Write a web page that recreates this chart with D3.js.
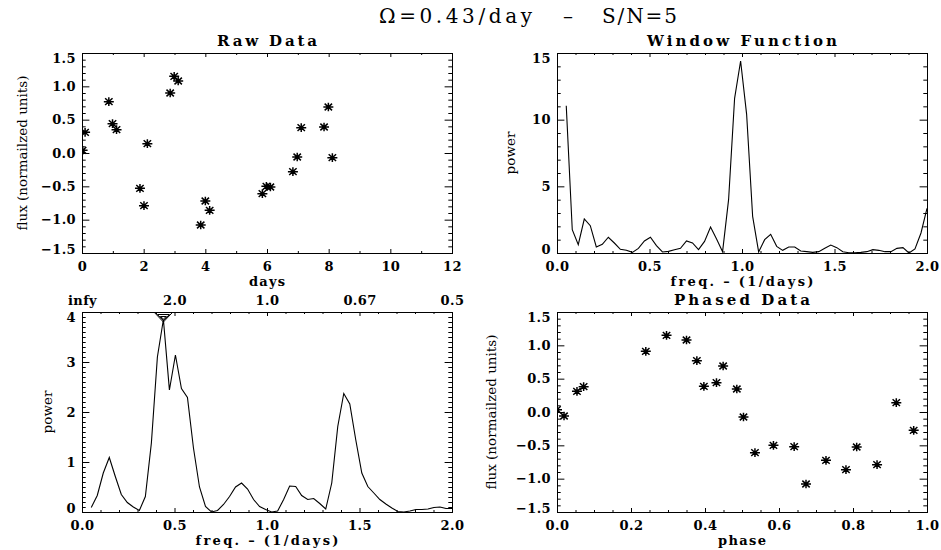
<!DOCTYPE html>
<html>
<head>
<meta charset="utf-8">
<script src="https://cdn.jsdelivr.net/npm/d3@7"></script>
<style>
  body { margin: 0; background: #fff; }
  svg text { font-family: "DejaVu Serif", serif; fill: #000; }
  .tick text { font-size: 13px; font-weight: bold; letter-spacing: 0.4px; }
  .ttl { font-size: 15px; font-weight: bold; }
  .xl { font-size: 13px; font-weight: bold; }
  .yl { font-size: 13.5px; }
</style>
</head>
<body>
<svg id="chart" width="941" height="550"></svg>
<script>
// ---- data ----
var rawDays = [0.02, 0.10, 0.87, 0.99, 1.12, 1.88, 2.01, 2.12, 2.86, 2.99, 3.12, 3.85, 4.00, 4.14,
               5.85, 5.98, 6.11, 6.84, 6.98, 7.11, 7.85, 7.99, 8.12]
var rawFlux = [0.04, 0.31, 0.77, 0.44, 0.35, -0.53, -0.79, 0.14, 0.90, 1.15, 1.08, -1.08, -0.72, -0.86,
               -0.61, -0.50, -0.51, -0.28, -0.06, 0.38, 0.39, 0.69, -0.07]

var phase = [0.0, 0.019, 0.054, 0.072, 0.24, 0.296, 0.35, 0.378, 0.397, 0.431, 0.449, 0.486, 0.504,
             0.535, 0.585, 0.641, 0.673, 0.727, 0.781, 0.81, 0.865, 0.917, 0.964]
var phasedFlux = [0.035, -0.06, 0.31, 0.38, 0.91, 1.15, 1.08, 0.77, 0.385, 0.44, 0.69, 0.345, -0.075,
                  -0.61, -0.50, -0.52, -1.08, -0.725, -0.865, -0.525, -0.79, 0.14, -0.275]

var freq = [0.05, 0.0825, 0.115, 0.1475, 0.18, 0.2125, 0.245, 0.2775, 0.31, 0.3425, 0.375, 0.4075,
            0.44, 0.4725, 0.505, 0.5375, 0.57, 0.6025, 0.635, 0.6675, 0.7, 0.7325, 0.765, 0.7975,
            0.83, 0.8625, 0.895, 0.9275, 0.96, 0.9925, 1.025, 1.0575, 1.09, 1.1225, 1.155, 1.1875,
            1.22, 1.2525, 1.285, 1.3175, 1.35, 1.3825, 1.415, 1.4475, 1.48, 1.5125, 1.545, 1.5775,
            1.61, 1.6425, 1.675, 1.7075, 1.74, 1.7725, 1.805, 1.8375, 1.87, 1.9025, 1.935, 1.9675, 2.0]
var windowPower = [11.05, 1.75, 0.63, 2.55, 2.05, 0.45, 0.65, 1.18, 0.75, 0.28, 0.2, 0.05, 0.35, 0.9,
                   1.18, 0.55, 0.08, 0.12, 0.25, 0.35, 0.9, 0.75, 0.25, 0.87, 1.95, 1.05, 0.1, 4.0,
                   11.6, 14.4, 10.4, 2.75, 0.08, 1.0, 1.4, 0.5, 0.2, 0.45, 0.45, 0.15, 0.1, 0.05, 0.1,
                   0.35, 0.6, 0.4, 0.1, 0.02, 0.02, 0.05, 0.1, 0.25, 0.2, 0.1, 0.1, 0.35, 0.4, 0.0,
                   0.3, 1.5, 3.35]
var periodPower = [0.09, 0.33, 0.78, 1.09, 0.71, 0.35, 0.19, 0.1, 0.03, 0.31, 1.38, 3.1, 3.85, 2.44,
                   3.14, 2.47, 2.29, 1.28, 0.5, 0.11, 0.0, 0.03, 0.15, 0.31, 0.5, 0.58, 0.46, 0.25,
                   0.11, 0.05, 0.0, 0.02, 0.25, 0.52, 0.51, 0.33, 0.25, 0.27, 0.17, 0.06, 0.58, 1.71,
                   2.37, 2.16, 1.44, 0.78, 0.51, 0.38, 0.25, 0.16, 0.08, 0.01, 0.0, 0.02, 0.05, 0.05,
                   0.06, 0.09, 0.1, 0.07, 0.07]
var peakFreq = 0.44

// ticks
var dayTicks = [0, 2, 4, 6, 8, 10, 12]
var fluxTicks = [-1.5, -1.0, -0.5, 0.0, 0.5, 1.0, 1.5]
var freqTicks = [0.0, 0.5, 1.0, 1.5, 2.0]
var windowTicks = [0, 5, 10, 15]
var powerTicks = [0, 1, 2, 3, 4]
var phaseTicks = [0.0, 0.2, 0.4, 0.6, 0.8, 1.0]
var periodLabels = ["infy", "2.0", "1.0", "0.67", "0.5"]

var W = 370, H = 200
var svg = d3.select("#chart")

// minor ticks between majors
function minors(ticks, n) {
  var out = []
  for (var i = 0; i < ticks.length - 1; i++) {
    var step = (ticks[i + 1] - ticks[i]) / n
    for (var j = 1; j < n; j++) out.push(ticks[i] + j * step)
  }
  return out
}

var strip = function(s) { s.select(".domain").remove() }

function panel(o) {
  var x = d3.scaleLinear().domain(o.xDomain).range([o.left, o.left + W])
  var y = d3.scaleLinear().domain(o.yDomain).range([o.top + H, o.top])
  var g = svg.append("g")
  var xMin = minors(o.xTicks, o.xN), yMin = minors(o.yTicks, o.yN)

  // bottom
  g.append("g").attr("transform", "translate(0," + (o.top + H) + ")")
    .call(d3.axisBottom(x).tickValues(o.xTicks).tickFormat(o.xFmt).tickSize(-4).tickPadding(9)).call(strip)
  g.append("g").attr("transform", "translate(0," + (o.top + H) + ")")
    .call(d3.axisBottom(x).tickValues(xMin).tickFormat("").tickSize(-2)).call(strip)
  // top
  g.append("g").attr("transform", "translate(0," + o.top + ")")
    .call(d3.axisTop(x).tickValues(o.xTicks).tickFormat(o.topFmt || "").tickSize(-4).tickPadding(7)).call(strip)
  g.append("g").attr("transform", "translate(0," + o.top + ")")
    .call(d3.axisTop(x).tickValues(xMin).tickFormat("").tickSize(-2)).call(strip)
  // left
  var yAx = g.append("g").attr("transform", "translate(" + o.left + ",0)")
    .call(d3.axisLeft(y).tickValues(o.yTicks).tickFormat(o.yFmt).tickSize(-7.4).tickPadding(6)).call(strip)
  // IDL keeps the end labels inside the box height
  var yl = yAx.selectAll(".tick text")
  yl.filter(function(d, i) { return i === 0 }).attr("dy", "0.05em")
  yl.filter(function(d, i) { return i === o.yTicks.length - 1 }).attr("dy", "0.7em")
  g.append("g").attr("transform", "translate(" + o.left + ",0)")
    .call(d3.axisLeft(y).tickValues(yMin).tickFormat("").tickSize(-3.7)).call(strip)
  // right
  g.append("g").attr("transform", "translate(" + (o.left + W) + ",0)")
    .call(d3.axisRight(y).tickValues(o.yTicks).tickFormat("").tickSize(-7.4)).call(strip)
  g.append("g").attr("transform", "translate(" + (o.left + W) + ",0)")
    .call(d3.axisRight(y).tickValues(yMin).tickFormat("").tickSize(-3.7)).call(strip)

  g.selectAll(".tick line").attr("stroke", "#000")

  g.append("rect")
    .attr("x", o.left + 0.5).attr("y", o.top + 0.5)
    .attr("width", W).attr("height", H)
    .attr("fill", "none").attr("stroke", "#000")

  svg.append("clipPath").attr("id", o.id)
    .append("rect").attr("x", o.left).attr("y", o.top).attr("width", W + 1).attr("height", H + 1)

  var plot = g.append("g").attr("clip-path", "url(#" + o.id + ")")

  if (o.line) {
    plot.append("path")
      .datum(o.line.xs.map(function(d, i) { return [d, o.line.ys[i]] }))
      .attr("fill", "none").attr("stroke", "#000").attr("stroke-width", 1.1)
      .attr("d", d3.line().x(function(d) { return x(d[0]) }).y(function(d) { return y(d[1]) }))
  }
  if (o.stars) {
    plot.selectAll("path.star")
      .data(o.stars.xs.map(function(d, i) { return [d, o.stars.ys[i]] }))
      .enter().append("path")
      .attr("class", "star")
      .attr("transform", function(d) { return "translate(" + x(d[0]) + "," + y(d[1]) + ")" })
      .attr("d", "M-5,0H5M0,-4.3V4.3M-3.7,-3.4L3.7,3.4M-3.7,3.4L3.7,-3.4")
      .attr("stroke", "#000").attr("stroke-width", 1.5).attr("fill", "none")
  }

  // titles
  var cx = o.left + W / 2
  if (o.title) g.append("text").attr("class", "ttl").attr("x", cx).attr("y", o.top - 7)
    .attr("text-anchor", "middle").attr("textLength", o.titleLen).attr("lengthAdjust", "spacing").text(o.title)
  g.append("text").attr("class", "xl").attr("x", cx).attr("y", o.top + H + 33)
    .attr("text-anchor", "middle").attr("textLength", o.xLen).attr("lengthAdjust", "spacing").text(o.xLabel)
  g.append("text").attr("class", "yl")
    .attr("transform", "translate(" + (o.left + o.yOff) + "," + (o.top + H / 2) + ") rotate(-90)")
    .attr("text-anchor", "middle").text(o.yLabel)

  return { x: x, y: y, g: g }
}

var f1 = d3.format(".1f"), fd = d3.format("d")

// title
svg.append("text").attr("x", 379).attr("y", 23).attr("font-size", 20)
  .attr("textLength", 153).attr("lengthAdjust", "spacing").text("\u03A9=0.43/day")
svg.append("text").attr("x", 568).attr("y", 23).attr("font-size", 20)
  .attr("text-anchor", "middle").text("\u2013")
svg.append("text").attr("x", 602).attr("y", 23).attr("font-size", 20)
  .attr("textLength", 75).attr("lengthAdjust", "spacing").text("S/N=5")

panel({
  id: "c1", left: 82, top: 53, xDomain: [0, 12], yDomain: [-1.5, 1.5],
  xTicks: dayTicks, xN: 2, xFmt: fd, yTicks: fluxTicks, yN: 5, yFmt: f1,
  title: "Raw Data", titleLen: 100, xLabel: "days", xLen: 36,
  yLabel: "flux (normailzed units)", yOff: -55,
  stars: { xs: rawDays, ys: rawFlux }
})

panel({
  id: "c2", left: 557, top: 53, xDomain: [0, 2], yDomain: [0, 15],
  xTicks: freqTicks, xN: 5, xFmt: f1, yTicks: windowTicks, yN: 5, yFmt: fd,
  title: "Window Function", titleLen: 190, xLabel: "freq. \u2013 (1/days)", xLen: 143,
  yLabel: "power", yOff: -42,
  line: { xs: freq, ys: windowPower }
})

var p3 = panel({
  id: "c3", left: 82, top: 312, xDomain: [0, 2], yDomain: [0, 4],
  xTicks: freqTicks, xN: 5, xFmt: f1, yTicks: powerTicks, yN: 10, yFmt: fd,
  topFmt: function(d, i) { return periodLabels[i] },
  xLabel: "freq. \u2013 (1/days)", xLen: 143,
  yLabel: "power", yOff: -30,
  line: { xs: freq, ys: periodPower }
})

// nested triangles marking the periodogram peak
var px = p3.x(peakFreq)
;[[9, 312.5, 322], [6, 314.5, 320.5], [3, 316.5, 319]].forEach(function(t) {
  p3.g.append("path")
    .attr("d", "M" + (px - t[0]) + "," + t[1] + "L" + (px + t[0]) + "," + t[1] + "L" + px + "," + t[2] + "Z")
    .attr("fill", "none").attr("stroke", "#000").attr("stroke-width", 1)
})

panel({
  id: "c4", left: 557, top: 312, xDomain: [0, 1], yDomain: [-1.5, 1.5],
  xTicks: phaseTicks, xN: 4, xFmt: f1, yTicks: fluxTicks, yN: 5, yFmt: f1,
  title: "Phased Data", titleLen: 136, xLabel: "phase", xLen: 48,
  yLabel: "flux (normailzed units)", yOff: -61,
  stars: { xs: phase, ys: phasedFlux }
})
</script>
</body>
</html>
